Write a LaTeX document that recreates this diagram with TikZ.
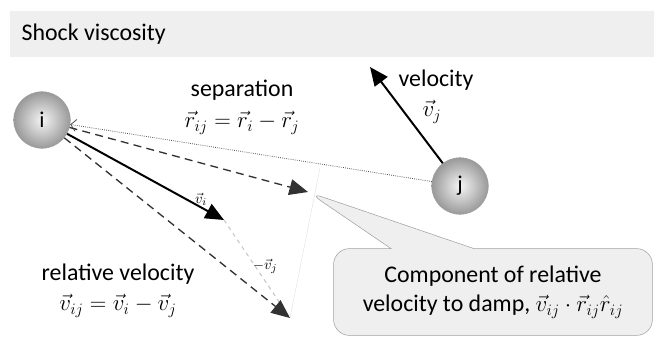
\documentclass[tikz,border=0pt]{standalone}
\usepackage{fontspec}
\setmainfont{Carlito}
\usetikzlibrary{arrows.meta, shapes.callouts}
\definecolor{LGr}{RGB}{239,239,239}
\definecolor{MG}{RGB}{160,160,160}
\definecolor{DG}{RGB}{50,50,50}
\begin{document}
\begin{tikzpicture}[x=0.0265cm, y=-0.0265cm,
  ball/.style={circle, draw=MG, inner sep=0pt, minimum size=1.5cm,
               inner color=gray!8, outer color=gray!80, font=\fontsize{17}{20}\selectfont},
  lbl/.style={font=\fontsize{18}{22}\selectfont, align=center, inner sep=1pt},
  sml/.style={font=\fontsize{11}{12}\selectfont, inner sep=0pt},
  head/.style={-{Triangle[length=14pt,width=12pt]}},
  dsh/.style={head, dashed, dash pattern=on 6pt off 4pt, line width=1pt, draw=DG}
]
\useasboundingbox (0,0) rectangle (654,338);
\fill[LGr] (10,11) rectangle (654,57);
\node[lbl, anchor=west] (title) at (20,34) {Shock viscosity};

\node[ball] (i) at (42,120) {i};
\node[ball] (j) at (460,186) {j};

\coordinate (vjtip) at (370,67);
\coordinate (vitip) at (224,220);
\coordinate (rtip)  at (308,192);
\coordinate (vijtip) at (290,318);
\coordinate (ptop) at (320,168);

% faint projection line
\draw[gray!20] (ptop) -- (vijtip);
% separation
\draw[densely dotted, semithick, draw=DG!85, -{Straight Barb[length=4pt,width=9pt]}] (j) -- (i);
% velocity of j
\draw[head, line width=1.5pt] (j) -- (vjtip);
% velocity of i and -v_j
\draw[head, line width=1.5pt] (i) -- (vitip);
\draw[gray!45, dashed, thick] (vitip) -- (vijtip);
% relative velocity and its component
\draw[dsh] (i) -- (rtip);
\draw[dsh] (i) -- (vijtip);

\node[sml] (vilbl) at (201,199) {$\vec{v}_i$};
\node[sml] (vjlbl) at (265,266) {$-\vec{v}_j$};

\node[lbl] (sep) at (242,90) {separation};
\node[lbl] (seq) at (242,123) {$\vec{r}_{ij}=\vec{r}_i-\vec{r}_j$};
\node[lbl] (vel) at (436,80) {velocity};
\node[lbl] (veq) at (432,112) {$\vec{v}_j$};
\node[lbl] (rel) at (118,274) {relative velocity};
\node[lbl] (req) at (118,306) {$\vec{v}_{ij}=\vec{v}_i-\vec{v}_j$};

\node[rectangle callout, callout absolute pointer={(rtip)}, callout pointer width=2.2cm,
      rounded corners=12pt, fill=LGr, draw=MG, minimum width=8.45cm, minimum height=2.3cm,
      lbl] (note) at (493,292)
  {Component of relative\\velocity to damp, $\vec{v}_{ij}\cdot\vec{r}_{ij}\hat{r}_{ij}$};
\end{tikzpicture}
\end{document}
